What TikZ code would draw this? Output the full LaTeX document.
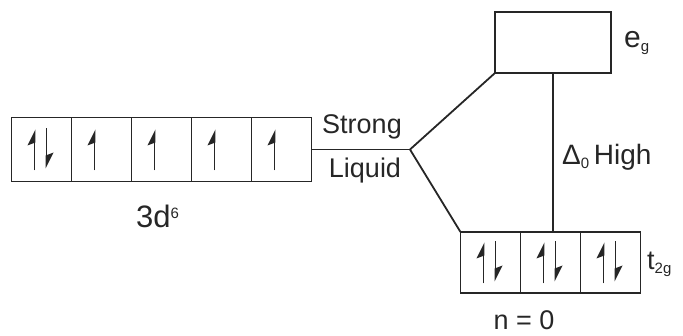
\documentclass[tikz,border=0pt]{standalone}
\usepackage{fontspec}
\setmainfont{Liberation Sans}
\usetikzlibrary{positioning}
\tikzstyle{cell} = [rectangle, minimum width=60pt, minimum height=64pt, inner sep=0pt, outer sep=0pt, draw=black!85, line width=1.8pt]
\tikzstyle{level} = [rectangle, minimum width=116pt, minimum height=61pt, inner sep=0pt, outer sep=0pt, draw=black!85, line width=1.8pt]
\tikzstyle{line} = [line width=1.8pt, draw=black!85]
\tikzstyle{lbl} = [font=\fontsize{27}{30}\selectfont, text=black!85, inner sep=0pt]
\newcommand{\sub}[1]{\raisebox{-4pt}{\fontsize{15}{15}\selectfont #1}}
\newcommand{\spinup}[1]{%
  \draw[line] ([xshift=-7pt,yshift=-21pt]#1.center) -- ([xshift=-7pt,yshift=17pt]#1.center);
  \fill[black!85] ([xshift=-6.1pt,yshift=20pt]#1.center) -- ++(-8pt,-16pt) -- ++(8pt,3pt) -- cycle;}
\newcommand{\spindown}[1]{%
  \draw[line] ([xshift=5pt,yshift=21pt]#1.center) -- ([xshift=5pt,yshift=-16pt]#1.center);
  \fill[black!85] ([xshift=4.1pt,yshift=-19pt]#1.center) -- ++(8pt,16pt) -- ++(-8pt,-3pt) -- cycle;}

\begin{document}
\begin{tikzpicture}[x=1pt, y=-1pt, node distance=60pt]
        \useasboundingbox (0,0) rectangle (683,336);

        % free ion, 3d6
        \node[cell] (d1) at (41.5,149.5) {};
        \node[cell, right of=d1] (d2) {};
        \node[cell, right of=d2] (d3) {};
        \node[cell, right of=d3] (d4) {};
        \node[cell, right of=d4] (d5) {};

        % split levels
        \node[level] (eg) at (553,42.5) {};
        \node[cell, minimum height=61pt] (t1) at (490.5,262.5) {};
        \node[cell, minimum height=61pt, right of=t1] (t2) {};
        \node[cell, minimum height=61pt, right of=t2] (t3) {};

        \coordinate (split) at (410,149.5);

        \spinup{d1} \spindown{d1}
        \spinup{d2} \spinup{d3} \spinup{d4} \spinup{d5}
        \spinup{t1} \spindown{t1}
        \spinup{t2} \spindown{t2}
        \spinup{t3} \spindown{t3}

        \draw[line] (d5.east) -- (split);
        \draw[line] (split) -- (eg.south west);
        \draw[line] (split) -- (t1.north west);
        \draw[line] (eg.south) -- (eg.south |- t2.north);

        \node[lbl, anchor=base] (strong) at (362,134) {Strong};
        \node[lbl, anchor=base] (liquid) at (365,178) {Liquid};
        \node[lbl, anchor=base west, font=\fontsize{31}{34}\selectfont] (dsix) at (136,228) {3d\raisebox{9pt}{\fontsize{15}{15}\selectfont 6}};
        \node[lbl, anchor=base west, font=\fontsize{30}{32}\selectfont] (eglbl) at (624,48) {e\sub{g}};
        \node[lbl, anchor=base west, font=\fontsize{28}{30}\selectfont] (delta) at (562,165) {Δ\sub{0}\,High};
        \node[lbl, anchor=base west] (t2glbl) at (647,270) {t\sub{2g}};
        \node[lbl, anchor=base] (nzero) at (524,330) {n = 0};

    \end{tikzpicture}
\end{document}
